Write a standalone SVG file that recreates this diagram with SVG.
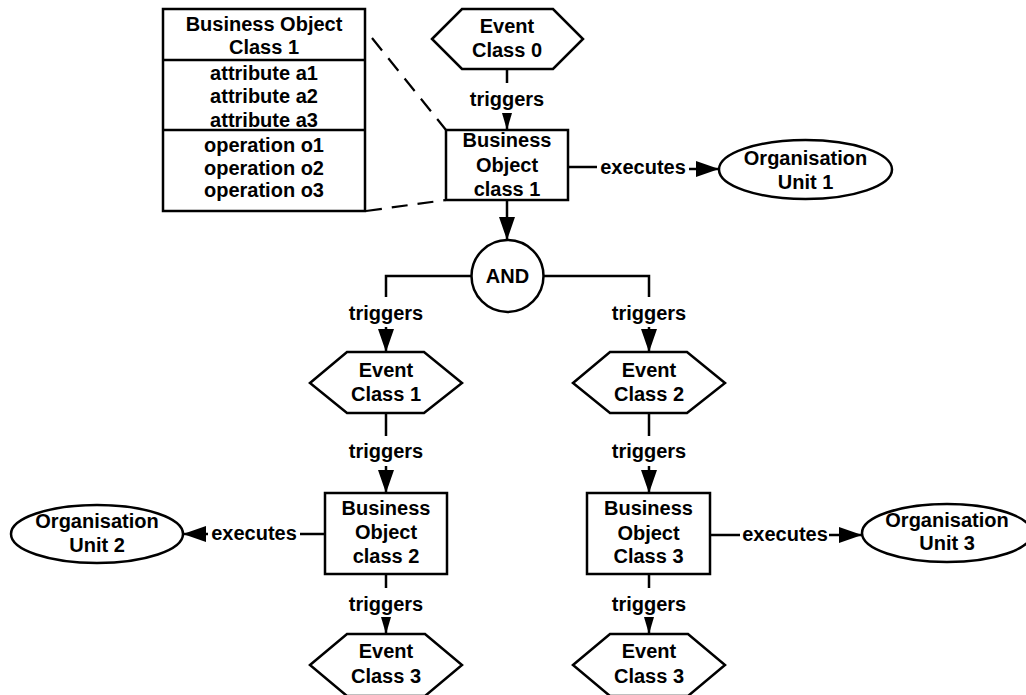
<svg xmlns="http://www.w3.org/2000/svg" width="1026" height="695" viewBox="0 0 1026 695">
  <style>
    .shape { fill: #ffffff; stroke: #000000; stroke-width: 2.5; }
    .line { fill: none; stroke: #000000; stroke-width: 2.5; }
    .dash { fill: none; stroke: #000000; stroke-width: 2.2; stroke-dasharray: 16 10; }
    text { font-family: "Liberation Sans", Arial, sans-serif; font-size: 20px; font-weight: bold; fill: #000000; text-anchor: middle; }
  </style>
  <defs>
    <marker id="arrowS" markerUnits="userSpaceOnUse" markerWidth="18" markerHeight="12" refX="17" refY="6" orient="auto">
      <path d="M0,1 L17,6 L0,11 Z" fill="#000000"/>
    </marker>
    <marker id="arrowL" markerUnits="userSpaceOnUse" markerWidth="24" markerHeight="16" refX="23" refY="8" orient="auto">
      <path d="M0,0 L23,8 L0,16 Z" fill="#000000"/>
    </marker>
  </defs>

  <rect width="1026" height="695" fill="#ffffff"/>

  <!-- connectors -->
  <g id="connectors">
    <!-- class detail callout -->
    <path class="dash" d="M372,38 L446,130"/>
    <path class="dash" d="M366,211 L446,200"/>

    <!-- Event Class 0 -> BO class 1 -->
    <path class="line" d="M507,69 V83"/>
    <text x="507" y="106">triggers</text>
    <path class="line" d="M507,113 V130" marker-end="url(#arrowS)"/>

    <!-- BO class 1 -> Organisation Unit 1 -->
    <path class="line" d="M568,167 H597"/>
    <text x="643" y="174">executes</text>
    <path class="line" d="M689,169 H719" marker-end="url(#arrowL)"/>

    <!-- BO class 1 -> AND -->
    <path class="line" d="M507,200 V240" marker-end="url(#arrowL)"/>

    <!-- AND -> Event Class 1 / Event Class 2 -->
    <path class="line" d="M472,276 H386 V297"/>
    <text x="386" y="320">triggers</text>
    <path class="line" d="M386,327 V352" marker-end="url(#arrowL)"/>
    <path class="line" d="M543,276 H649 V297"/>
    <text x="649" y="320">triggers</text>
    <path class="line" d="M649,327 V352" marker-end="url(#arrowL)"/>

    <!-- Event Class 1 -> BO class 2 -->
    <path class="line" d="M386,413 V436"/>
    <text x="386" y="458">triggers</text>
    <path class="line" d="M386,466 V493" marker-end="url(#arrowL)"/>

    <!-- Event Class 2 -> BO Class 3 -->
    <path class="line" d="M649,413 V436"/>
    <text x="649" y="458">triggers</text>
    <path class="line" d="M649,466 V493" marker-end="url(#arrowL)"/>

    <!-- BO class 2 -> Organisation Unit 2 -->
    <path class="line" d="M325,534 H300"/>
    <text x="254" y="540">executes</text>
    <path class="line" d="M208,534 H183" marker-end="url(#arrowL)"/>

    <!-- BO Class 3 -> Organisation Unit 3 -->
    <path class="line" d="M710,535 H740"/>
    <text x="785" y="541">executes</text>
    <path class="line" d="M829,535 H862" marker-end="url(#arrowL)"/>

    <!-- BO class 2 -> Event Class 3 -->
    <path class="line" d="M386,574 V588"/>
    <text x="386" y="611">triggers</text>
    <path class="line" d="M386,617 V634" marker-end="url(#arrowS)"/>

    <!-- BO Class 3 -> Event Class 3 -->
    <path class="line" d="M649,574 V588"/>
    <text x="649" y="611">triggers</text>
    <path class="line" d="M649,617 V634" marker-end="url(#arrowS)"/>
  </g>

  <!-- class detail box -->
  <g id="class-detail">
    <rect class="shape" x="163" y="9" width="202" height="202"/>
    <path class="line" d="M163,60 H365 M163,130 H365"/>
    <text x="264" y="31">Business Object</text>
    <text x="264" y="54">Class 1</text>
    <text x="264" y="80">attribute a1</text>
    <text x="264" y="103">attribute a2</text>
    <text x="264" y="127">attribute a3</text>
    <text x="264" y="152">operation o1</text>
    <text x="264" y="175">operation o2</text>
    <text x="264" y="197">operation o3</text>
  </g>

  <g id="event-class-0">
    <polygon class="shape" points="432,39 462,9 553,9 583,39 553,69 462,69"/>
    <text x="507" y="33">Event</text>
    <text x="507" y="57">Class 0</text>
  </g>

  <g id="bo-class-1">
    <rect class="shape" x="446" y="130" width="122" height="70"/>
    <text x="507" y="147">Business</text>
    <text x="507" y="172">Object</text>
    <text x="507" y="196">class 1</text>
  </g>

  <g id="org-unit-1">
    <ellipse class="shape" cx="805.5" cy="169.5" rx="86.5" ry="29.5"/>
    <text x="805.5" y="165">Organisation</text>
    <text x="805.5" y="189">Unit 1</text>
  </g>

  <g id="and">
    <circle class="shape" cx="507.5" cy="276" r="36"/>
    <text x="507.5" y="283">AND</text>
  </g>

  <g id="event-class-1">
    <polygon class="shape" points="310,383 347,352 424,352 462,383 424,413 347,413"/>
    <text x="386" y="377">Event</text>
    <text x="386" y="401">Class 1</text>
  </g>

  <g id="event-class-2">
    <polygon class="shape" points="573,383 610,352 687,352 725,383 687,413 610,413"/>
    <text x="649" y="377">Event</text>
    <text x="649" y="401">Class 2</text>
  </g>

  <g id="bo-class-2">
    <rect class="shape" x="325" y="493" width="122" height="81"/>
    <text x="386" y="515">Business</text>
    <text x="386" y="539">Object</text>
    <text x="386" y="563">class 2</text>
  </g>

  <g id="bo-class-3">
    <rect class="shape" x="587" y="493" width="123" height="81"/>
    <text x="648.5" y="515">Business</text>
    <text x="648.5" y="540">Object</text>
    <text x="648.5" y="563">Class 3</text>
  </g>

  <g id="org-unit-2">
    <ellipse class="shape" cx="97" cy="534" rx="86" ry="29"/>
    <text x="97" y="528">Organisation</text>
    <text x="97" y="552">Unit 2</text>
  </g>

  <g id="org-unit-3">
    <ellipse class="shape" cx="947" cy="533" rx="85" ry="29"/>
    <text x="947" y="527">Organisation</text>
    <text x="947" y="550">Unit 3</text>
  </g>

  <g id="event-class-3a">
    <polygon class="shape" points="310,665 347,634 425,634 462,665 425,696 347,696"/>
    <text x="386" y="658">Event</text>
    <text x="386" y="683">Class 3</text>
  </g>

  <g id="event-class-3b">
    <polygon class="shape" points="573,665 610,634 688,634 725,665 688,696 610,696"/>
    <text x="649" y="658">Event</text>
    <text x="649" y="683">Class 3</text>
  </g>
</svg>
